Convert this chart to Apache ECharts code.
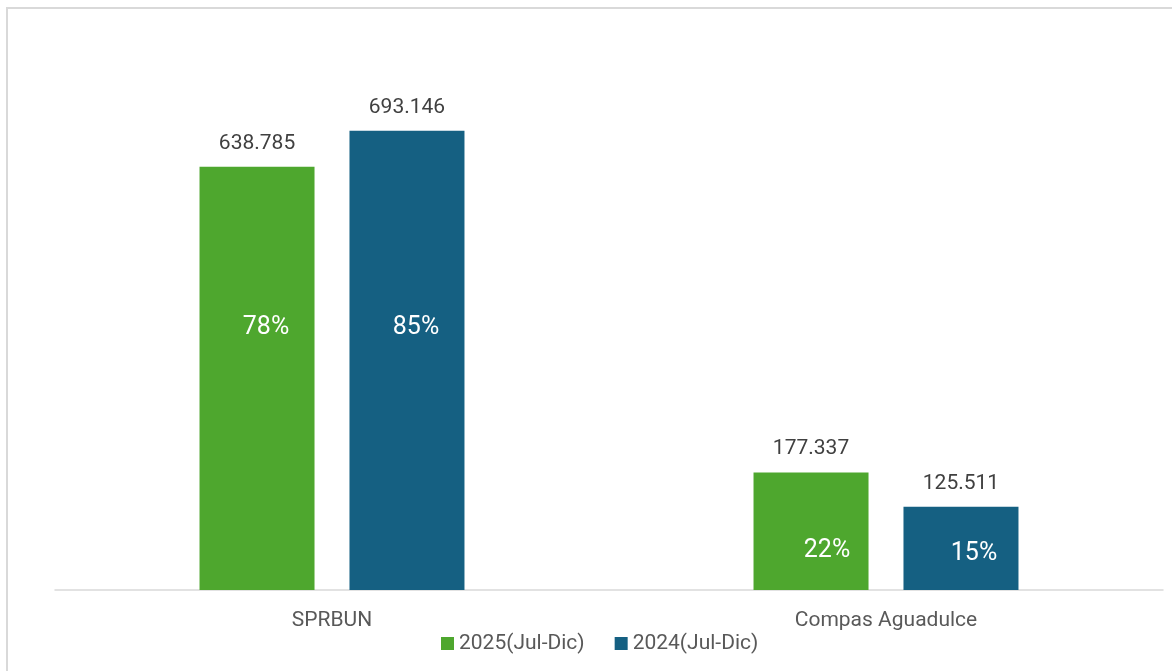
<!DOCTYPE html>
<html><head><meta charset="utf-8">
<script src="https://cdn.jsdelivr.net/npm/echarts@6/dist/echarts.min.js"></script>
<style>html,body{margin:0;padding:0;background:#fff}#c{width:1172px;height:671px}</style>
</head><body><div id="c"></div>
<script>
const categories = ['SPRBUN', 'Compas Aguadulce'];
const seriesNames = ['2025(Jul-Dic)', '2024(Jul-Dic)'];
const values2025 = [638785, 177337];
const values2024 = [693146, 125511];
const pct2025 = ['78%', '22%'];
const pct2024 = ['85%', '15%'];

const colors = ['#4EA72E', '#156082'];
const pctOffsets2025 = [[9, -51], [16, 19]];
const pctOffsets2024 = [[9, -33], [13, 5]];

function fmt(v) { return String(v).replace(/\B(?=(\d{3})+(?!\d))/g, '.'); }
const font = 'Roboto, "Liberation Sans", sans-serif';

const chart = echarts.init(document.getElementById('c'));
function pctData(vals, pcts, offs) {
  return vals.map((v, i) => ({ value: v, label: { formatter: pcts[i], offset: offs[i] } }));
}
chart.setOption({
  animation: false,
  backgroundColor: '#fff',
  grid: { left: 55, right: 9, top: 60, bottom: 81 },
  legend: {
    data: seriesNames, left: 436, top: 628, itemWidth: 13, itemHeight: 13, itemGap: 30,
    icon: 'rect',
    textStyle: { color: '#595959', fontSize: 21, fontFamily: font }
  },
  xAxis: [
    { type: 'category', data: categories, axisTick: { show: false },
      axisLine: { lineStyle: { color: '#d9d9d9', width: 1.5 } },
      axisLabel: { color: '#595959', fontSize: 21, fontFamily: font, margin: 20 } },
    { type: 'category', data: categories, show: false }
  ],
  yAxis: { type: 'value', min: 0, max: 800000, show: false, splitLine: { show: false } },
  graphic: [
    { type: 'line', shape: { x1: 7, y1: 8, x2: 7, y2: 671 }, style: { stroke: '#d9d9d9', lineWidth: 2 } },
    { type: 'line', shape: { x1: 6, y1: 8, x2: 1172, y2: 8 }, style: { stroke: '#d9d9d9', lineWidth: 2 } }
  ],
  series: [
    { name: seriesNames[0], type: 'bar', data: values2025, barWidth: 115, barGap: '30.4%',
      itemStyle: { color: colors[0] },
      label: { show: true, position: 'top', distance: 13, color: '#404040', fontSize: 21, fontFamily: font, formatter: p => fmt(p.value) } },
    { name: seriesNames[1], type: 'bar', data: values2024, barWidth: 115, barGap: '30.4%',
      itemStyle: { color: colors[1] },
      label: { show: true, position: 'top', distance: 13, color: '#404040', fontSize: 21, fontFamily: font, formatter: p => fmt(p.value) } },
    { name: 'p1', type: 'bar', xAxisIndex: 1, data: pctData(values2025, pct2025, pctOffsets2025), barWidth: 115, barGap: '30.4%',
      itemStyle: { color: 'rgba(0,0,0,0)' }, silent: true,
      label: { show: true, position: 'inside', color: '#fff', fontSize: 25, fontFamily: font } },
    { name: 'p2', type: 'bar', xAxisIndex: 1, data: pctData(values2024, pct2024, pctOffsets2024), barWidth: 115, barGap: '30.4%',
      itemStyle: { color: 'rgba(0,0,0,0)' }, silent: true,
      label: { show: true, position: 'inside', color: '#fff', fontSize: 25, fontFamily: font } }
  ]
});
</script></body></html>
